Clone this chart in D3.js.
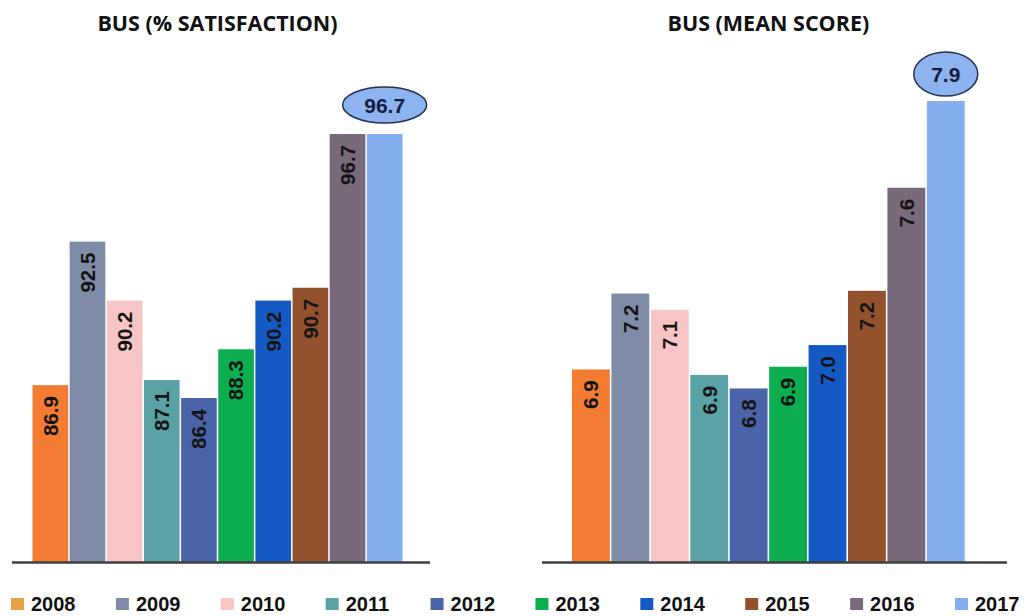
<!DOCTYPE html>
<html>
<head>
<meta charset="utf-8">
<script src="https://cdn.jsdelivr.net/npm/d3@7"></script>
<style>
  body { margin: 0; background: #fff; }
</style>
</head>
<body>
<svg width="1030" height="616"></svg>
<script>
// data
const years = ["2008", "2009", "2010", "2011", "2012", "2013", "2014", "2015", "2016", "2017"];
const satisfaction = [86.9, 92.5, 90.2, 87.1, 86.4, 88.3, 90.2, 90.7, 96.7, 96.7];
const meanScore = [6.91, 7.19, 7.13, 6.89, 6.84, 6.92, 7.00, 7.20, 7.58, 7.90];
const barColors = ["#F47B32", "#7F8BA7", "#F8C5C7", "#5AA2A6", "#4A64A9", "#0CAE50", "#1559C5", "#93522D", "#786A7A", "#85AEEE"];
const legendColors = ["#E6A146", "#7F8BA7", "#F8C5C7", "#5AA2A6", "#4A64A9", "#0CAE50", "#1559C5", "#93522D", "#786A7A", "#85AEEE"];

const svg = d3.select("svg");
const baseY = 562;

const panels = [
  { title: "BUS (% SATISFACTION)", values: satisfaction, yMin: 80, yTop: 134,
    bars: [32.5, 402.5], axis: [12, 430], ell: { rx: 42, ry: 18, gap: 11 } },
  { title: "BUS (MEAN SCORE)", values: meanScore, yMin: 6.2, yTop: 101,
    bars: [572, 964.7], axis: [542, 1007], ell: { rx: 32, ry: 22, gap: 5 } }
];

const fmt = d3.format(".1f");

panels.forEach(p => {
  const g = svg.append("g");
  const maxV = d3.max(p.values);
  const x = d3.scaleBand().domain(years).range(p.bars).paddingInner(0.04);
  const y = d3.scaleLinear().domain([p.yMin, maxV]).range([baseY, p.yTop]);

  g.append("text")
    .attr("x", (p.bars[0] + p.bars[1]) / 2)
    .attr("y", 31)
    .attr("text-anchor", "middle")
    .attr("font-family", "Open Sans")
    .attr("font-weight", 700)
    .attr("font-size", "21.5px")
    .attr("fill", "#111")
    .text(p.title);

  g.selectAll("rect")
    .data(p.values)
    .join("rect")
    .attr("x", (d, i) => x(years[i]))
    .attr("y", d => y(d))
    .attr("width", x.bandwidth())
    .attr("height", d => baseY - y(d))
    .attr("fill", (d, i) => barColors[i]);

  // labels inside bar ends, except the last one which sits in an ellipse
  g.selectAll("text.val")
    .data(p.values.slice(0, 9))
    .join("text")
    .attr("class", "val")
    .attr("transform", (d, i) => `translate(${x(years[i]) + x.bandwidth() / 2},${y(d) + 11}) rotate(-90)`)
    .attr("text-anchor", "end")
    .attr("dy", "0.36em")
    .attr("font-family", "Liberation Sans, Arial, sans-serif")
    .attr("font-weight", 700)
    .attr("font-size", "20.5px")
    .attr("fill", "#141414")
    .text(d => fmt(d));

  g.append("line")
    .attr("x1", p.axis[0]).attr("x2", p.axis[1])
    .attr("y1", baseY + 0.5).attr("y2", baseY + 0.5)
    .attr("stroke", "#3f3f3f")
    .attr("stroke-width", 2.5);

  const last = years[years.length - 1];
  const cx = x(last) + x.bandwidth() / 2;
  const cy = y(maxV) - p.ell.gap - p.ell.ry;
  g.append("ellipse")
    .attr("cx", cx).attr("cy", cy)
    .attr("rx", p.ell.rx).attr("ry", p.ell.ry)
    .attr("fill", "#8DB3F0")
    .attr("stroke", "#26304F")
    .attr("stroke-width", 1.5);
  g.append("text")
    .attr("x", cx).attr("y", cy)
    .attr("dy", "0.36em")
    .attr("text-anchor", "middle")
    .attr("font-family", "Liberation Sans, Arial, sans-serif")
    .attr("font-weight", 700)
    .attr("font-size", "21px")
    .attr("fill", "#161C3E")
    .text(fmt(maxV));
});

// legend
const lx = d3.scalePoint().domain(years).range([11, 955]);
const leg = svg.append("g").selectAll("g")
  .data(years)
  .join("g")
  .attr("transform", d => `translate(${lx(d)},0)`);
leg.append("rect")
  .attr("x", 0).attr("y", 598)
  .attr("width", 13).attr("height", 12)
  .attr("fill", (d, i) => legendColors[i]);
leg.append("text")
  .attr("x", 20).attr("y", 611)
  .attr("font-family", "Liberation Sans, Arial, sans-serif")
  .attr("font-weight", 700)
  .attr("font-size", "20px")
  .attr("fill", "#111")
  .text(d => d);
</script>
</body>
</html>
